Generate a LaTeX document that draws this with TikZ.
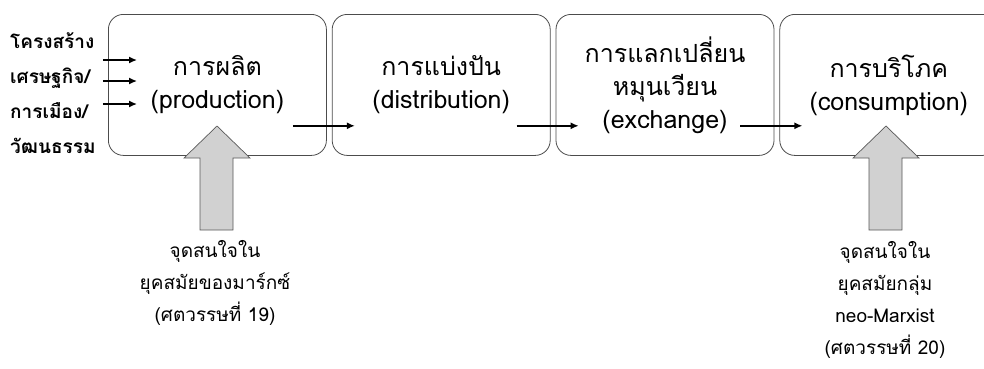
\documentclass[tikz,border=0pt]{standalone}
\usepackage{fontspec}
\setmainfont[Script=Thai]{Loma}
\usetikzlibrary{arrows.meta,
                positioning
                }

\begin{document}
\begin{tikzpicture}[
x=1pt, y=-1pt,
node distance = 5pt,
    BX/.style = {draw=black!70, rounded corners=15pt, line width=0.8pt,
                 minimum width=218pt, minimum height=141pt, inner sep=2pt,
                 align=center, font=\fontsize{25}{33}\selectfont},
    AR/.style = {-{Latex[length=8pt,width=7pt]}, line width=1.4pt},
    BA/.style = {draw=black!65, fill=black!18, line width=0.7pt},
    NT/.style = {align=center, font=\fontsize{19}{32}\selectfont},
                        ]
\clip (0,0) rectangle (984,368);
% the four stages
\node[BX, anchor=north west] (prod) at (108,14) {การผลิต\\(production)};
\node[BX, right=of prod] (dist) {การแบ่งปัน\\(distribution)};
\node[BX, right=of dist] (exch) {การแลกเปลี่ยน\\หมุนเวียน\\(exchange)};
\node[BX, right=of exch] (cons) {การบริโภค\\(consumption)};
% structures feeding production
\node[align=left, anchor=west, inner sep=0pt,
      font=\bfseries\fontsize{19}{35}\selectfont]
      (base) at (10,93) {โครงสร้าง\\เศรษฐกิจ/\\การเมือง/\\วัฒนธรรม};
\foreach \y in {60,81,104}
    \draw[AR] ([xshift=7pt]base.east |- 0,\y) -- ([xshift=29pt]prod.west |- 0,\y);
\foreach \a/\b in {prod/dist, dist/exch, exch/cons}
    \draw[AR]   ([shift={(-34pt,30pt)}]\a.south east) --
                ([shift={(23pt,30pt)}]\b.south west);
%
\node[NT] (m19) at (215,283) {จุดสนใจใน\\ยุคสมัยของมาร์กซ์\\(ศตวรรษที่ 19)};
\node[NT] (m20) at (885,300) {จุดสนใจใน\\ยุคสมัยกลุ่ม\\neo-Marxist\\(ศตวรรษที่ 20)};
\coordinate (t19) at (217,126);
\coordinate (t20) at (886,126);
\foreach \t in {t19,t20}
    \draw[BA]   (\t) -- ++(33,32) -- ++(-17,0) -- ++(0,72) -- ++(-33,0)
                -- ++(0,-72) -- ++(-16,0) -- cycle;
\end{tikzpicture}
\end{document}
